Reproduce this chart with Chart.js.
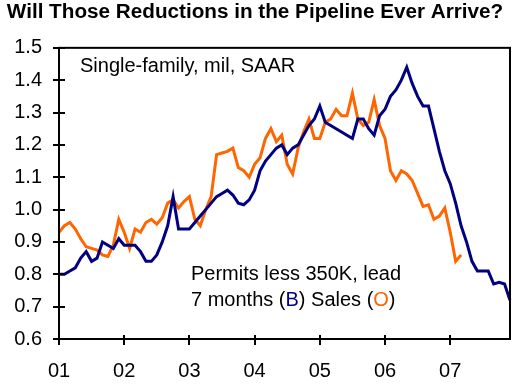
<!DOCTYPE html>
<html>
<head>
<meta charset="utf-8">
<script src="https://cdn.jsdelivr.net/npm/chart.js@4.4.1/dist/chart.umd.min.js"></script>
<style>
  html, body { margin: 0; padding: 0; background: #fff; }
  #wrap { width: 520px; height: 390px; position: relative; }
</style>
</head>
<body>
<div id="wrap"><canvas id="chart"></canvas></div>
<script>
// ---- data, monthly Jan 2001 .. Dec 2007 ----
const yearLabels = ['01', '02', '03', '04', '05', '06', '07'];

// Permits less 350K, lead 7 months (blue)
const permits = [
  0.80, 0.80, 0.81, 0.82, 0.85, 0.87, 0.84, 0.85, 0.90, 0.89, 0.88, 0.91,
  0.89, 0.89, 0.89, 0.87, 0.84, 0.84, 0.86, 0.90, 0.95, 1.04, 0.94, 0.94,
  0.94, 0.96, 0.98, 1.00, 1.02, 1.04, 1.05, 1.06, 1.045, 1.02, 1.015, 1.03,
  1.06, 1.12, 1.15, 1.17, 1.19, 1.20, 1.17, 1.19, 1.20, 1.23, 1.26, 1.28,
  1.32, 1.27, 1.26, 1.25, 1.24, 1.23, 1.22, 1.28, 1.28, 1.25, 1.23, 1.29,
  1.31, 1.35, 1.37, 1.40, 1.44, 1.39, 1.35, 1.32, 1.32, 1.25, 1.18, 1.12,
  1.08, 1.02, 0.95, 0.90, 0.84, 0.81, 0.81, 0.81, 0.77, 0.775, 0.77, 0.72
];

// Sales (orange)
const sales = [
  0.93, 0.95, 0.96, 0.94, 0.91, 0.885, 0.88, 0.875, 0.86, 0.855, 0.89, 0.97,
  0.93, 0.88, 0.94, 0.93, 0.96, 0.97, 0.955, 0.975, 1.02, 1.03, 1.005, 1.025,
  1.04, 0.97, 0.95, 1.00, 1.04, 1.17, 1.175, 1.18, 1.19, 1.13, 1.12, 1.10,
  1.14, 1.16, 1.22, 1.25, 1.21, 1.23, 1.14, 1.11, 1.19, 1.24, 1.28, 1.22,
  1.22, 1.27, 1.28, 1.31, 1.29, 1.29, 1.36, 1.28, 1.26, 1.27, 1.34, 1.26,
  1.22, 1.12, 1.09, 1.12, 1.11, 1.09, 1.05, 1.01, 1.015, 0.97, 0.98, 1.005,
  0.93, 0.84, 0.86
];

const FONT = '"Liberation Sans", Arial, Helvetica, sans-serif';
const NAVY = '#000080';
const ORANGE = '#ff6600';

// one category per month, year label on the January slot
const months = [];
yearLabels.forEach(y => { for (let m = 1; m <= 12; m++) months.push(y + '-' + m); });

// frame + crossing tick marks + the two text notes
const decorPlugin = {
  id: 'decor',
  afterDraw(chart) {
    const { ctx, chartArea: a, scales } = chart;
    ctx.save();
    ctx.strokeStyle = '#000';
    ctx.lineWidth = 2;
    ctx.strokeRect(a.left, a.top, a.right - a.left, a.bottom - a.top);

    // y ticks cross the axis
    scales.y.ticks.forEach((t, i) => {
      const y = Math.round(scales.y.getPixelForTick(i));
      ctx.beginPath();
      ctx.moveTo(a.left - 6, y);
      ctx.lineTo(a.left + 6, y);
      ctx.stroke();
    });
    // x ticks at each January
    for (let i = 0; i < months.length; i += 12) {
      const x = Math.round(scales.x.getPixelForValue(i));
      ctx.beginPath();
      ctx.moveTo(x, a.bottom - 4);
      ctx.lineTo(x, a.bottom + 6);
      ctx.stroke();
    }

    ctx.font = '20px ' + FONT;
    ctx.textBaseline = 'alphabetic';
    ctx.fillStyle = '#000';
    ctx.fillText('Single-family, mil, SAAR', a.left + 21, a.top + 24);

    const x0 = a.left + 132, y1 = a.top + 232, y2 = a.top + 258;
    ctx.fillText('Permits less 350K, lead', x0, y1);
    const parts = [
      ['7 months (', '#000'], ['B', NAVY], [') Sales (', '#000'], ['O', ORANGE], [')', '#000']
    ];
    let x = x0;
    parts.forEach(([s, c]) => {
      ctx.fillStyle = c;
      ctx.fillText(s, x, y2);
      x += ctx.measureText(s).width;
    });
    ctx.restore();
  }
};

new Chart(document.getElementById('chart'), {
  type: 'line',
  data: {
    labels: months,
    datasets: [
      { label: 'Permits', data: permits, borderColor: NAVY, borderWidth: 3, pointRadius: 0, tension: 0, fill: false },
      { label: 'Sales', data: sales, borderColor: ORANGE, borderWidth: 3, pointRadius: 0, tension: 0, fill: false }
    ]
  },
  options: {
    responsive: true,
    maintainAspectRatio: false,
    animation: false,
    layout: { padding: { left: 0, right: 10, top: 0, bottom: 0 } },
    plugins: {
      legend: { display: false },
      tooltip: { enabled: false },
      title: {
        display: true,
        text: 'Will Those Reductions in the Pipeline Ever Arrive?',
        color: '#000',
        font: { family: FONT, size: 20.7, weight: 'bold', lineHeight: 1.2 },
        padding: { top: 0, bottom: 23 }
      }
    },
    scales: {
      x: {
        type: 'category',
        offset: false,
        grid: { display: false, drawTicks: false },
        border: { display: false },
        afterFit: s => { s.height = 51; s.paddingLeft = 0; s.paddingRight = 0; },
        ticks: {
          autoSkip: false,
          maxRotation: 0,
          padding: 20,
          color: '#000',
          font: { family: FONT, size: 20 },
          callback: (v, i) => (i % 12 === 0 ? yearLabels[i / 12] : '')
        }
      },
      y: {
        min: 0.6,
        max: 1.5,
        grid: { display: false, drawTicks: false },
        border: { display: false },
        afterFit: s => { s.width = 59; s.paddingTop = 0; s.paddingBottom = 0; },
        ticks: {
          stepSize: 0.1,
          padding: 17,
          color: '#000',
          font: { family: FONT, size: 20 },
          callback: v => v.toFixed(1)
        }
      }
    }
  },
  plugins: [decorPlugin]
});
</script>
</body>
</html>
